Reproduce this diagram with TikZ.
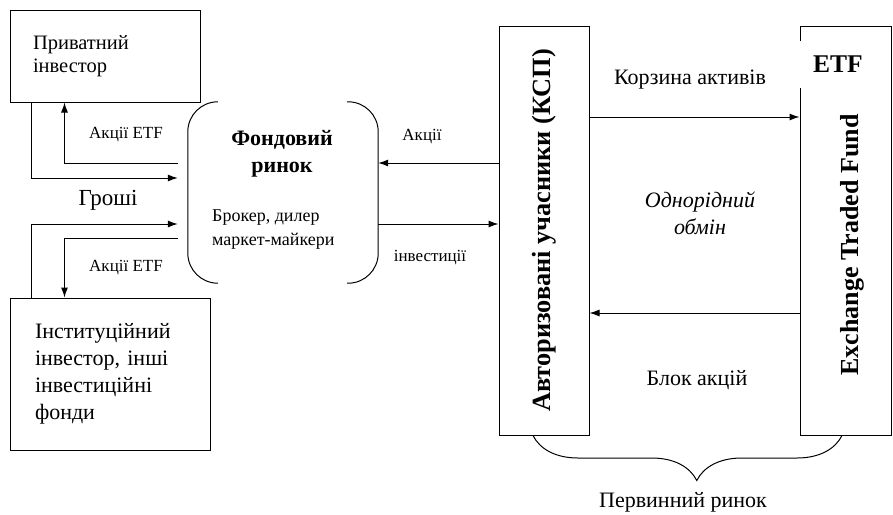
\documentclass[tikz,border=0pt]{standalone}
\usepackage{fontspec}
\setmainfont{Liberation Serif}
\usetikzlibrary{arrows.meta, calc, decorations.pathreplacing}
\tikzstyle{box} = [rectangle, draw=black, line width=1pt]
\tikzstyle{arrow} = [line width=1pt,->,>={Latex[length=10pt,width=7pt]}]
\tikzstyle{lbl} = [inner sep=0pt, font=\fontsize{17}{20}\selectfont]
\tikzstyle{biglbl} = [inner sep=0pt, font=\fontsize{22}{26}\selectfont]

\begin{document}
\begin{tikzpicture}[x=1pt,y=-1pt]
        \useasboundingbox (0,0) rectangle (893,514);
        % investors
        \node (priv) [box, minimum width=190pt, minimum height=92pt, text width=144pt, inner xsep=23pt, align=left, font=\fontsize{20.5}{23}\selectfont] at (105,56) {Приватний\\інвестор};
        \node (inst) [box, minimum width=200pt, minimum height=152pt, text width=150pt, inner xsep=25pt, align=left, font=\fontsize{22}{27}\selectfont] at (110,374) {Інституційний\\інвестор, інші\\інвестиційні\\фонди};
        % stock market
        \node (market) [minimum width=200pt, minimum height=181pt] at (278,192.5) {};
        \draw [line width=1pt, rounded corners=30pt] ($(market.north west)+(40,0)$) -- ($(market.north west)+(10,0)$) -- ($(market.south west)+(10,0)$) -- ($(market.south west)+(40,0)$);
        \draw [line width=1pt, rounded corners=30pt] ($(market.north east)+(-31,0)$) -- (market.north east) -- (market.south east) -- ($(market.south east)+(-31,0)$);
        \node (mtitle) [align=center, font=\fontsize{22}{27}\selectfont\bfseries] at (282,154) {Фондовий\\ринок};
        \node (broker) [anchor=west, inner sep=0pt, align=left, font=\fontsize{18}{24}\selectfont] at (212,230) {Брокер, дилер\\маркет-майкери};
        % primary market
        \node (asp) [box, minimum width=90pt, minimum height=409pt] at (544,230.5) {};
        \node (asptext) [rotate=90, font=\fontsize{26.3}{30}\selectfont\bfseries] at (asp.center) {Авторизовані учасники (КСП)};
        \node (etf) [box, minimum width=91pt, minimum height=409pt] at (845.5,230.5) {};
        \node (etftext) [rotate=90, font=\fontsize{26}{30}\selectfont\bfseries] at (852,245) {Exchange Traded Fund};
        \node (etflabel) [fill=white, minimum height=47pt, inner xsep=16pt, font=\fontsize{25.5}{28}\selectfont\bfseries] at (838,64) {ETF};
        % arrows left
        \draw [arrow] ($(priv.south west)+(22,0)$) |- ($(market.west)+(0,-14.5)$);
        \draw [arrow] ($(market.west)+(0,-29.5)$) -| ($(priv.south west)+(55,0)$);
        \draw [arrow] ($(inst.north west)+(22,0)$) |- ($(market.west)+(0,31.5)$);
        \draw [arrow] ($(market.west)+(0,45.5)$) -| ($(inst.north west)+(55,0)$);
        \node (lshares1) [lbl] at (126,135) {Акції ETF};
        \node (lmoney) [biglbl, font=\fontsize{23}{26}\selectfont] at (108,200) {Гроші};
        \node (lshares2) [lbl] at (126,268) {Акції ETF};
        % arrows right
        \draw [arrow] ($(asp.west)+(0,-67.5)$) -- ($(market.east)+(0,-29.5)$);
        \draw [arrow] ($(market.east)+(0,31.5)$) -- ($(asp.west)+(0,-6.5)$);
        \node (lshares3) [lbl] at (422,137) {Акції};
        \node (linvest) [lbl] at (430,258) {інвестиції};
        \draw [arrow] ($(asp.east)+(0,-113.5)$) -- ($(etf.west)+(0,-113.5)$);
        \draw [arrow] ($(etf.west)+(0,82.5)$) -- ($(asp.east)+(0,82.5)$);
        \node (lbasket) [biglbl] at (690,80) {Корзина активів};
        \node (lswap) [align=center, font=\fontsize{22}{27}\selectfont\itshape] at (700,213) {Однорідний\\обмін};
        \node (lblock) [biglbl] at (697,380) {Блок акцій};
        % brace
        \draw [line width=1pt, decorate, decoration={brace, mirror, amplitude=45pt, aspect=0.53}] ($(asp.south)+(-11,0)$) -- ($(etf.south)+(-3.5,0)$);
        \node (lprimary) [biglbl] at (683,502) {Первинний ринок};
\end{tikzpicture}
\end{document}
